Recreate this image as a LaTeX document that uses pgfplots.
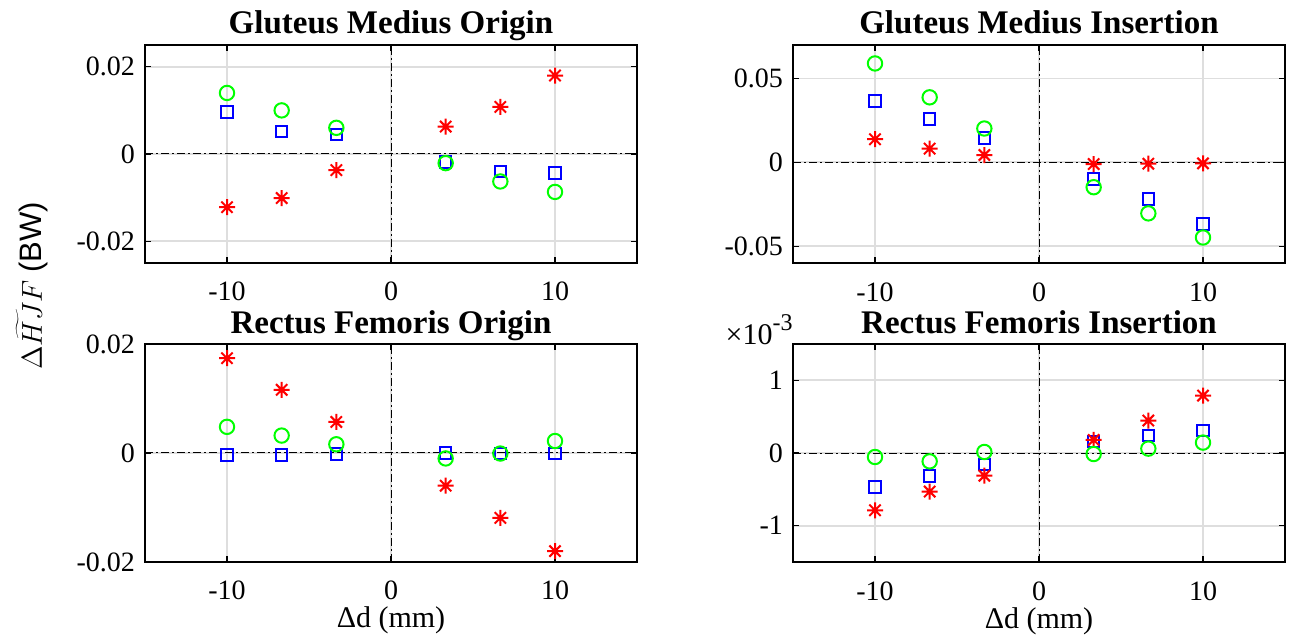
\documentclass[border=0pt]{standalone}
\usepackage{fontspec}
\setmainfont{Liberation Serif}
\setsansfont{Liberation Sans}
\usepackage{pgfplots}
\pgfplotsset{compat=1.18}
\pgfdeclareplotmark{mstar}{%
 \pgfpathmoveto{\pgfqpoint{-\pgfplotmarksize}{0pt}}\pgfpathlineto{\pgfqpoint{\pgfplotmarksize}{0pt}}%
 \pgfpathmoveto{\pgfqpoint{0pt}{-\pgfplotmarksize}}\pgfpathlineto{\pgfqpoint{0pt}{\pgfplotmarksize}}%
 \pgfpathmoveto{\pgfqpoint{-.7071\pgfplotmarksize}{-.7071\pgfplotmarksize}}\pgfpathlineto{\pgfqpoint{.7071\pgfplotmarksize}{.7071\pgfplotmarksize}}%
 \pgfpathmoveto{\pgfqpoint{-.7071\pgfplotmarksize}{.7071\pgfplotmarksize}}\pgfpathlineto{\pgfqpoint{.7071\pgfplotmarksize}{-.7071\pgfplotmarksize}}%
 \pgfusepathqstroke}
\pgfplotsset{
 panel/.style={scale only axis, width=246pt, height=109pt,
  xmin=-15, xmax=15, xtick={-10,0,10}, xticklabels={-10,0,10},
  scaled x ticks=false, scaled y ticks=false, clip=false,
  grid=major, major grid style={black!13, line width=0.9pt},
  tick align=inside, tick pos=both, major tick length=3pt,
  axis line style={line width=0.8pt}, tick style={black, line width=0.6pt},
  ticklabel style={font=\fontsize{14}{14}\selectfont},
  xticklabel style={anchor=base, yshift=-19pt},
  yticklabel style={xshift=-1.5pt},
  title style={at={(0.5,1)}, anchor=base, yshift=-0.5pt, font=\bfseries\fontsize{16.5}{16.5}\selectfont},
  xlabel style={at={(0.5,0)}, anchor=base, yshift=-33pt, font=\fontsize{15}{15}\selectfont},
 },
 bl/.style={only marks, blue, mark=square, mark size=2.9pt, line width=1pt},
 rd/.style={only marks, red, mark=mstar, mark size=4pt, line width=1pt},
 gr/.style={only marks, green, mark=o, mark size=3.6pt, line width=1pt},
 zl/.style={black, line width=0.5pt, dash pattern=on 4pt off 1.5pt on 1pt off 1.5pt, forget plot},
}
\begin{document}
\begin{tikzpicture}
\path[use as bounding box] (0,0) rectangle (645pt,319pt);
% top-left
\begin{axis}[panel, at={(72.5pt,296.5pt)}, anchor=north west,
  title={Gluteus Medius Origin}, ymin=-0.025, ymax=0.025,
  ytick={-0.02,0,0.02}, yticklabels={-0.02,0,0.02}]
\addplot[zl] coordinates {(-15,0) (15,0)};
\addplot[zl] coordinates {(0,-0.025) (0,0.025)};
\addplot[bl] coordinates {(-10,0.0097) (-6.667,0.0052) (-3.333,0.0045) (3.333,-0.0019) (6.667,-0.0040) (10,-0.0044)};
\addplot[rd] coordinates {(-10,-0.0122) (-6.667,-0.0101) (-3.333,-0.0037) (3.333,0.0063) (6.667,0.0108) (10,0.0180)};
\addplot[gr] coordinates {(-10,0.0140) (-6.667,0.0100) (-3.333,0.0060) (3.333,-0.0021) (6.667,-0.0063) (10,-0.0087)};
\end{axis}
% top-right
\begin{axis}[panel, at={(396.5pt,296.5pt)}, anchor=north west,
  title={Gluteus Medius Insertion}, ymin=-0.06, ymax=0.07,
  ytick={-0.05,0,0.05}, yticklabels={-0.05,0,0.05}]
\addplot[zl] coordinates {(-15,0) (15,0)};
\addplot[zl] coordinates {(0,-0.06) (0,0.07)};
\addplot[bl] coordinates {(-10,0.0366) (-6.667,0.0258) (-3.333,0.0144) (3.333,-0.0098) (6.667,-0.0220) (10,-0.0366)};
\addplot[rd] coordinates {(-10,0.0138) (-6.667,0.0082) (-3.333,0.0044) (3.333,-0.0010) (6.667,-0.0008) (10,-0.0006)};
\addplot[gr] coordinates {(-10,0.0590) (-6.667,0.0388) (-3.333,0.0202) (3.333,-0.0148) (6.667,-0.0304) (10,-0.0448)};
\end{axis}
% bottom-left
\begin{axis}[panel, at={(72.5pt,147pt)}, anchor=north west,
  title={Rectus Femoris Origin}, ymin=-0.02, ymax=0.02,
  ytick={-0.02,0,0.02}, yticklabels={-0.02,0,0.02},
  xlabel={Δd (mm)}]
\addplot[zl] coordinates {(-15,0) (15,0)};
\addplot[zl] coordinates {(0,-0.02) (0,0.02)};
\addplot[bl] coordinates {(-10,-0.0004) (-6.667,-0.0004) (-3.333,-0.0002) (3.333,0.0000) (6.667,-0.0001) (10,-0.0001)};
\addplot[rd] coordinates {(-10,0.0174) (-6.667,0.0116) (-3.333,0.0057) (3.333,-0.0060) (6.667,-0.0119) (10,-0.0180)};
\addplot[gr] coordinates {(-10,0.0048) (-6.667,0.0032) (-3.333,0.0016) (3.333,-0.0010) (6.667,-0.0001) (10,0.0022)};
\end{axis}
% bottom-right
\begin{axis}[panel, at={(396.5pt,147pt)}, anchor=north west,
  title={Rectus Femoris Insertion}, ymin=-0.0015, ymax=0.0015,
  ytick={-0.001,0,0.001}, yticklabels={-1,0,1},
  xlabel={Δd (mm)}]
\addplot[zl] coordinates {(-15,0) (15,0)};
\addplot[zl] coordinates {(0,-0.0015) (0,0.0015)};
\addplot[bl] coordinates {(-10,-0.465e-3) (-6.667,-0.318e-3) (-3.333,-0.157e-3) (3.333,0.157e-3) (6.667,0.240e-3) (10,0.309e-3)};
\addplot[rd] coordinates {(-10,-0.788e-3) (-6.667,-0.530e-3) (-3.333,-0.313e-3) (3.333,0.180e-3) (6.667,0.447e-3) (10,0.790e-3)};
\addplot[gr] coordinates {(-10,-0.055e-3) (-6.667,-0.115e-3) (-3.333,0.014e-3) (3.333,-0.014e-3) (6.667,0.060e-3) (10,0.143e-3)};
\node[anchor=base east, font=\fontsize{15}{15}\selectfont, inner sep=0pt] at (rel axis cs:0,1) {×10\raisebox{0.45em}{\fontsize{12}{12}\selectfont -3}};
\end{axis}
\node[rotate=90, font=\fontsize{15.5}{15.5}\selectfont] at (16pt,176pt) {$\Delta\widetilde{HJ}F$ \textsf{(BW)}};
\end{tikzpicture}
\end{document}
